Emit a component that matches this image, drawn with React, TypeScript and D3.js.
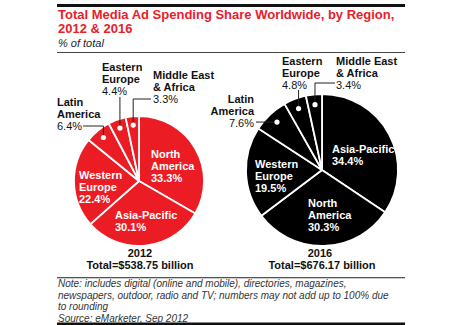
import React from "react";
import * as d3 from "d3";

const regions2012 = ["North America", "Asia-Pacific", "Western Europe", "Latin America", "Eastern Europe", "Middle East & Africa"];
const values2012 = [33.3, 30.1, 22.4, 6.4, 4.4, 3.3];
const regions2016 = ["Asia-Pacific", "North America", "Western Europe", "Latin America", "Eastern Europe", "Middle East & Africa"];
const values2016 = [34.4, 30.3, 19.5, 7.6, 4.8, 3.4];
const years = ["2012", "2016"];
const totals = ["Total=$538.75 billion", "Total=$676.17 billion"];

const titleLines = ["Total Media Ad Spending Share Worldwide, by Region,", "2012 & 2016"];
const subtitle = "% of total";
const noteLines = [
  "Note: includes digital (online and mobile), directories, magazines,",
  "newspapers, outdoor, radio and TV; numbers may not add up to 100% due",
  "to rounding",
  "Source: eMarketer, Sep 2012",
];

// label text lines per region (display)
const labelLines: Record<string, string[]> = {
  "North America": ["North", "America"],
  "Asia-Pacific": ["Asia-Pacific"],
  "Western Europe": ["Western", "Europe"],
  "Latin America": ["Latin", "America"],
  "Eastern Europe": ["Eastern", "Europe"],
  "Middle East & Africa": ["Middle East", "& Africa"],
};

type Lab = { x: number; y: number; anchor?: string; inside?: boolean; elbowY?: number; endX?: number };

const FONT = "'Liberation Sans', Arial, sans-serif";
const RED = "#ec1c24";

const layouts: { cx: number; cy: number; r: number; color: string; labels: Lab[] }[] = [
  {
    cx: 139, cy: 181, r: 65, color: RED,
    labels: [
      { x: 151, y: 158, inside: true },
      { x: 115, y: 219, inside: true },
      { x: 79, y: 179, inside: true },
      { x: 57, y: 106, elbowY: 126, endX: 83 },
      { x: 102, y: 71, elbowY: 97 },
      { x: 153, y: 79, elbowY: 99, endX: 151 },
    ],
  },
  {
    cx: 322, cy: 170, r: 76, color: "#000000",
    labels: [
      { x: 332, y: 153, inside: true },
      { x: 308, y: 207, inside: true },
      { x: 255, y: 168, inside: true },
      { x: 254, y: 103, anchor: "end", endX: 256 },
      { x: 282, y: 65, elbowY: 90 },
      { x: 336, y: 65, elbowY: 83, endX: 335 },
    ],
  },
];

function Pie({ idx, names, values }: { idx: number; names: string[]; values: number[] }) {
  const L = layouts[idx];
  const pie = d3.pie<number>().sort(null).startAngle(0).endAngle(2 * Math.PI)(values);
  const arc = d3.arc<d3.PieArcDatum<number>>().innerRadius(0).outerRadius(L.r);
  const LH = 12;
  return (
    <g>
      <g transform={`translate(${L.cx},${L.cy})`}>
        {pie.map((p, i) => (
          <path key={i} d={arc(p) || ""} fill={L.color} stroke="#fff" strokeWidth={1.8} strokeLinejoin="round" />
        ))}
      </g>
      {pie.map((p, i) => {
        const lab = L.labels[i];
        const lines = labelLines[names[i]];
        const pct = `${values[i].toFixed(1)}%`;
        if (lab.inside) {
          return (
            <text key={i} x={lab.x} y={lab.y} fill="#fff" fontFamily={FONT} fontWeight="bold" fontSize={11}>
              {[...lines, pct].map((t, j) => (
                <tspan key={j} x={lab.x} y={lab.y + j * LH}>{t}</tspan>
              ))}
            </text>
          );
        }
        const mid = (p.startAngle + p.endAngle) / 2;
        const rr = L.r * 0.865;
        const dx = L.cx + rr * Math.sin(mid);
        const dy = L.cy - rr * Math.cos(mid);
        const ey = lab.elbowY ?? dy;
        const pts: [number, number][] = [[dx, dy], [dx, ey]];
        if (lab.endX !== undefined) pts.push([lab.endX, ey]);
        const line = d3.line()(pts) || "";
        return (
          <g key={i}>
            <path d={line} fill="none" stroke="#222" strokeWidth={1} />
            <circle cx={dx} cy={dy} r={2.6} fill="#fff" />
            <text x={lab.x} y={lab.y} fill="#111" fontFamily={FONT} fontSize={11} textAnchor={lab.anchor || "start"}>
              {lines.map((t, j) => (
                <tspan key={j} x={lab.x} y={lab.y + j * LH} fontWeight="bold">{t}</tspan>
              ))}
              <tspan x={lab.x} y={lab.y + lines.length * LH}>{pct}</tspan>
            </text>
          </g>
        );
      })}
      <text x={idx === 0 ? 140 : 320} y={257} textAnchor="middle" fontFamily={FONT} fontWeight="bold" fontSize={11} fill="#111">
        <tspan x={idx === 0 ? 140 : 320} y={257}>{years[idx]}</tspan>
        <tspan x={idx === 0 ? 140 : 322} y={269}>{totals[idx]}</tspan>
      </text>
    </g>
  );
}

export default function App() {
  return (
    <svg width={460} height={325} style={{ position: "absolute", left: 0, top: 0, background: "#fff" }}>
      <rect x={0} y={0} width={460} height={325} fill="#fff" />
      <rect x={57} y={4} width={348} height={3} fill="#111" />
      <text fontFamily={FONT} fontWeight="bold" fontSize={13} fill="#e8202a">
        <tspan x={58} y={19}>{titleLines[0]}</tspan>
      </text>
      <text fontFamily={FONT} fontWeight="bold" fontSize={13} fill="#e8202a">
        <tspan x={58} y={33}>{titleLines[1]}</tspan>
      </text>
      <text x={58} y={46.5} fontFamily={FONT} fontStyle="italic" fontSize={11} fill="#222">{subtitle}</text>
      <rect x={57} y={52} width={348} height={1} fill="#444" />
      <Pie idx={0} names={regions2012} values={values2012} />
      <Pie idx={1} names={regions2016} values={values2016} />
      <rect x={57} y={277} width={348} height={1.3} fill="#555" />
      <text fontFamily={FONT} fontStyle="italic" fontSize={10} fill="#333">
        {noteLines.map((t, i) => (
          <tspan key={i} x={58} y={287 + i * 11.5}>{t}</tspan>
        ))}
      </text>
      <rect x={57} y={322.5} width={348} height={2.5} fill="#111" />
    </svg>
  );
}
